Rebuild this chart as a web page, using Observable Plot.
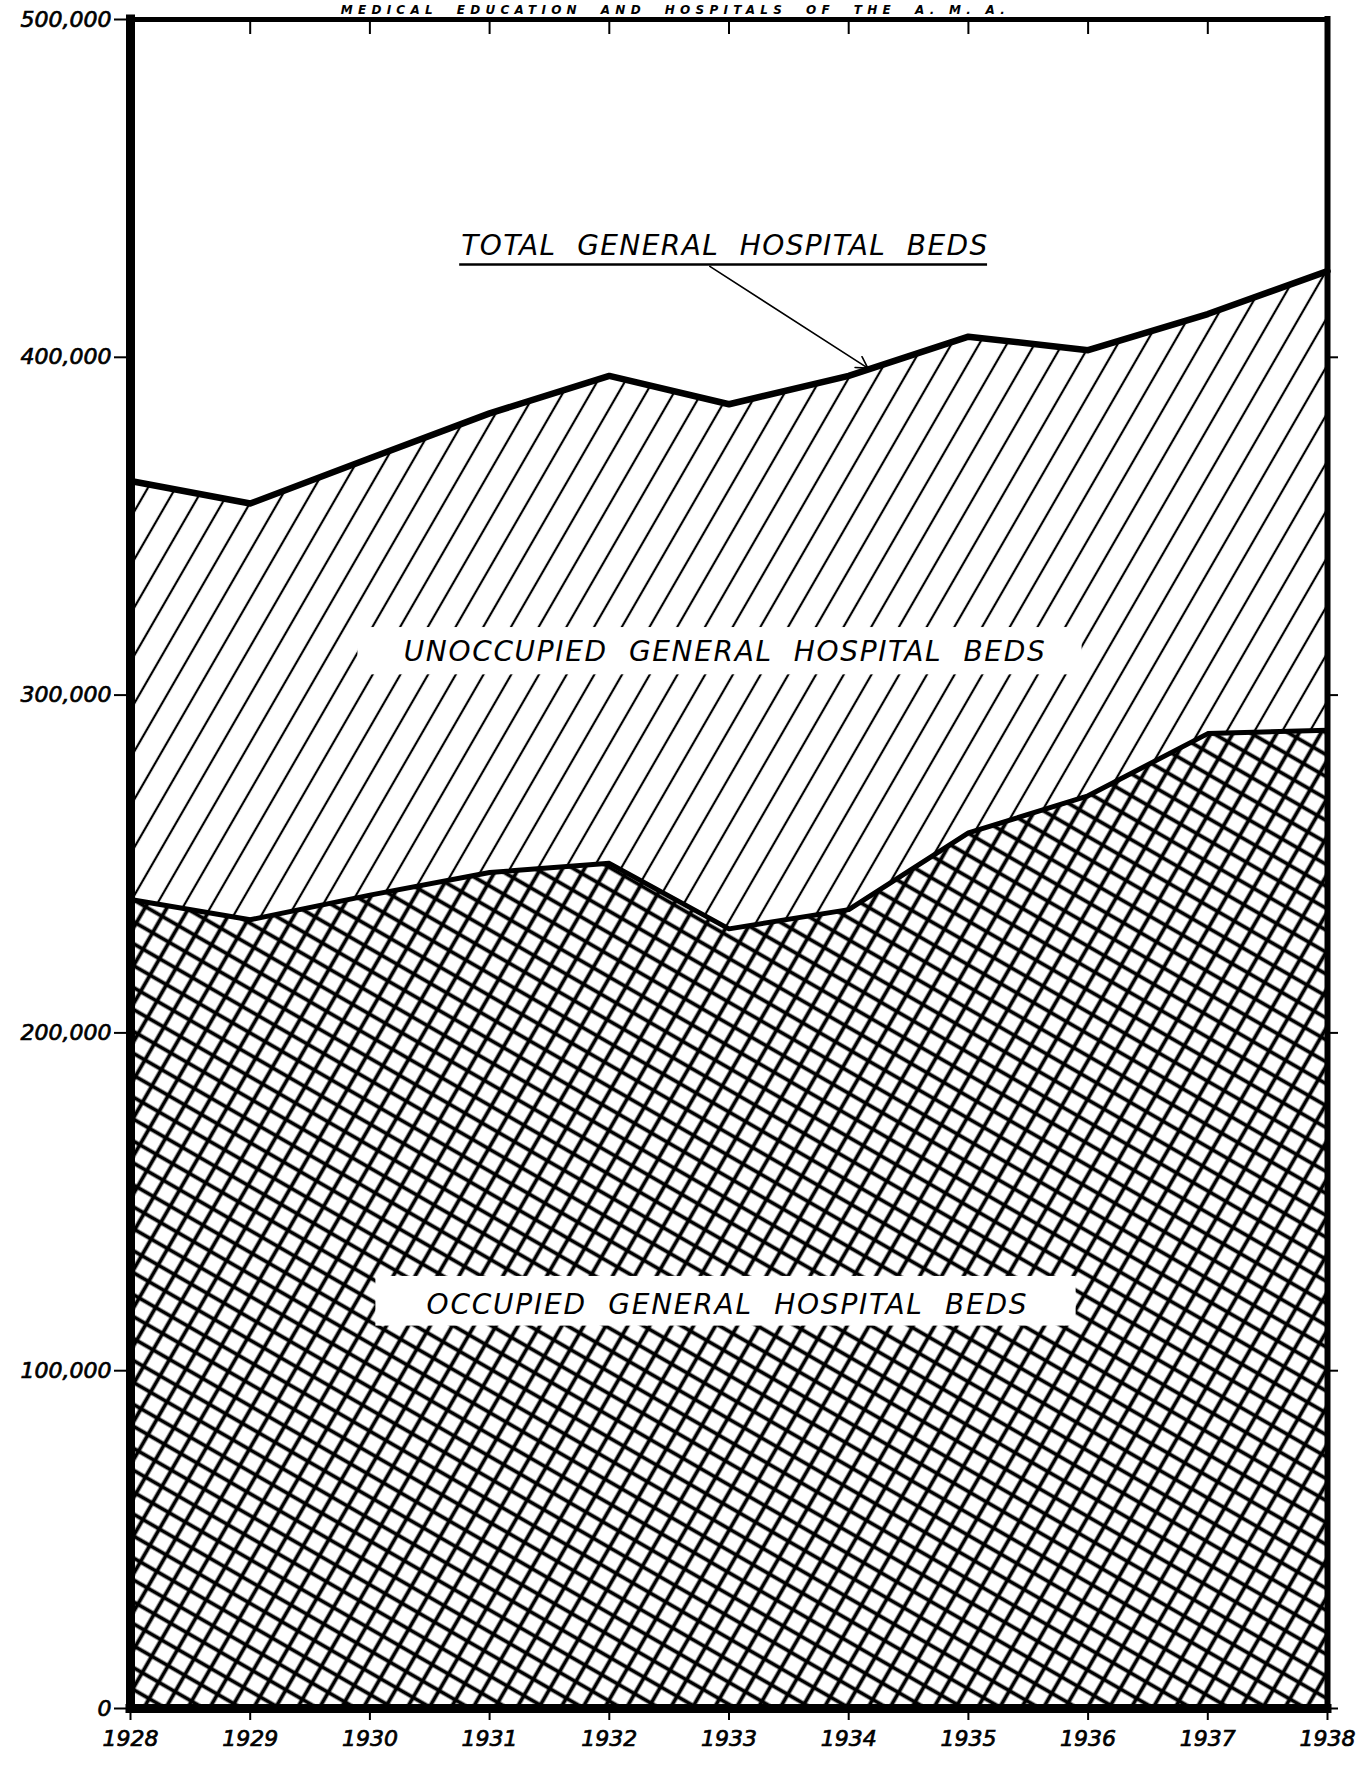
<!DOCTYPE html>
<html>
<head>
<meta charset="utf-8">
<script src="https://cdn.jsdelivr.net/npm/d3@7"></script>
<script src="https://cdn.jsdelivr.net/npm/@observablehq/plot@0.6"></script>
<style>
  html, body { margin: 0; padding: 0; background: #fff; }
  #chart svg { display: block; overflow: visible; }
  #chart text { font-style: italic; white-space: pre; }
  #chart g[aria-label$="tick label"] text { stroke: black; stroke-width: 0.7px; }
</style>
</head>
<body>
<div id="chart"></div>
<script>
// ---- data ----
const years = [1928, 1929, 1930, 1931, 1932, 1933, 1934, 1935, 1936, 1937, 1938];
const totalBeds = [363400, 356700, 370100, 383400, 394500, 386100, 394500, 406100, 402100, 412800, 425500];
const occupiedBeds = [239500, 233500, 240800, 247500, 250200, 230800, 236500, 259200, 270200, 288600, 289600];
const yTicks = [0, 100000, 200000, 300000, 400000, 500000];
const xTicks = years;

// ---- annotation texts and their anchors (data units) ----
const pageTitle = "MEDICAL  EDUCATION  AND  HOSPITALS  OF  THE  A. M. A.";
const titleX = [1932.53];
const labelTexts = [
  "TOTAL  GENERAL  HOSPITAL  BEDS",
  "UNOCCUPIED  GENERAL  HOSPITAL  BEDS",
  "OCCUPIED  GENERAL  HOSPITAL  BEDS"
];
const labelX = [1932.96, 1932.96, 1932.98];
const labelY = [433000, 312800, 119400];
const boxX1 = [1929.9, 1930.05];
const boxX2 = [1935.95, 1935.9];
const boxY1 = [320000, 127900];
const boxY2 = [306000, 113200];
const arrowX = [1932.84, 1934.16];
const arrowY = [426900, 396800];
const underlineX = [1930.75, 1935.16];
const underlineY = [427500];

// ---- styles ----
const labelTextLength = [526, 641, 600];
const titleTextLength = 664;
const font = "'DejaVu Sans', 'Liberation Sans', sans-serif";

const rows = years.map((year, i) => ({year, total: totalBeds[i], occupied: occupiedBeds[i]}));
const labels = labelTexts.map((text, i) => ({text, x: labelX[i], y: labelY[i]}));
const boxes = boxX1.map((x1, i) => ({x1, x2: boxX2[i], y1: boxY1[i], y2: boxY2[i]}));

const W = 1369, H = 1768, mL = 130, mR = 42, mT = 19, mB = 60;
const frameH = H - mT - mB;

const plot = Plot.plot({
  width: W,
  height: H,
  marginLeft: mL,
  marginRight: mR,
  marginTop: mT,
  marginBottom: mB,
  x: {domain: [1928, 1938]},
  y: {domain: [0, 500000]},
  style: {fontFamily: font, background: "white", color: "black", overflow: "visible"},
  marks: [
    // areas
    Plot.areaY(rows, {x: "year", y1: "occupied", y2: "total", fill: "url(#hatch)", curve: "linear"}),
    Plot.areaY(rows, {x: "year", y1: 0, y2: "occupied", fill: "url(#cross)", curve: "linear"}),
    // lines
    Plot.lineY(rows, {x: "year", y: "total", stroke: "black", strokeWidth: 6.5, strokeLinejoin: "round"}),
    Plot.lineY(rows, {x: "year", y: "occupied", stroke: "black", strokeWidth: 5, strokeLinejoin: "round"}),
    // white boxes behind labels
    Plot.rect(boxes, {x1: "x1", x2: "x2", y1: "y1", y2: "y2", fill: "white"}),
    // labels
    Plot.text(labels, {x: "x", y: "y", text: "text", fontSize: 28, fill: "black", textAnchor: "middle"}),
    // underline & arrow
    Plot.ruleY(underlineY, {x1: underlineX[0], x2: underlineX[1], stroke: "black", strokeWidth: 2.5}),
    Plot.arrow([0], {x1: () => arrowX[0], y1: () => arrowY[0], x2: () => arrowX[1], y2: () => arrowY[1], stroke: "black", strokeWidth: 1.6, headLength: 12}),
    // frame
    Plot.ruleY([500000], {stroke: "black", strokeWidth: 5, strokeLinecap: "square"}),
    Plot.ruleX([1938], {stroke: "black", strokeWidth: 6, strokeLinecap: "square"}),
    Plot.ruleX([1928], {stroke: "black", strokeWidth: 9, strokeLinecap: "square"}),
    Plot.ruleY([0], {stroke: "black", strokeWidth: 9, strokeLinecap: "square"}),
    // inward ticks along the top
    Plot.ruleX(xTicks.slice(1, -1), {x: d => d, stroke: "black", strokeWidth: 2, insetBottom: frameH - 15}),
    // axes
    Plot.axisY({ticks: yTicks, tickFormat: d3.format(","), tickSize: 16, tickPadding: 3, fontSize: 22, strokeWidth: 2}),
    Plot.axisY({anchor: "right", ticks: yTicks.slice(0, -1), tickFormat: () => "", tickSize: 10, strokeWidth: 2}),
    Plot.axisX({ticks: xTicks, tickFormat: d => String(d), tickSize: 12, tickPadding: 10, fontSize: 22, strokeWidth: 2}),
    // page heading (small, above the frame)
    Plot.text([pageTitle], {x: () => titleX[0], frameAnchor: "top", dy: -6, lineAnchor: "bottom", text: d => d, fontSize: 12, fontWeight: "bold", fill: "black"})
  ]
});

// patterns
const defs = d3.select(plot).insert("defs", ":first-child");
const hatch = defs.append("pattern")
  .attr("id", "hatch").attr("patternUnits", "userSpaceOnUse")
  .attr("width", 24).attr("height", 24)
  .attr("patternTransform", "rotate(30)");
hatch.append("rect").attr("width", 24).attr("height", 24).attr("fill", "white");
hatch.append("line").attr("x1", 12).attr("y1", -2).attr("x2", 12).attr("y2", 26)
  .attr("stroke", "black").attr("stroke-width", 2.2);

const cs = 19;
const cross = defs.append("pattern")
  .attr("id", "cross").attr("patternUnits", "userSpaceOnUse")
  .attr("width", cs).attr("height", cs)
  .attr("patternTransform", "rotate(30)");
cross.append("rect").attr("width", cs).attr("height", cs).attr("fill", "white");
cross.append("line").attr("x1", -1).attr("y1", cs / 2).attr("x2", cs + 1).attr("y2", cs / 2)
  .attr("stroke", "black").attr("stroke-width", 3.8);
cross.append("line").attr("x1", cs / 2).attr("y1", -1).attr("x2", cs / 2).attr("y2", cs + 1)
  .attr("stroke", "black").attr("stroke-width", 3.8);

// fit label widths (spread letters like the hand lettering)
d3.select(plot).selectAll("text").each(function() {
  const t = this.textContent;
  const i = labelTexts.indexOf(t);
  if (i >= 0) d3.select(this).attr("textLength", labelTextLength[i]).attr("lengthAdjust", "spacing");
  if (t === pageTitle) d3.select(this).attr("textLength", titleTextLength).attr("lengthAdjust", "spacing");
});

document.getElementById("chart").append(plot);
</script>
</body>
</html>
